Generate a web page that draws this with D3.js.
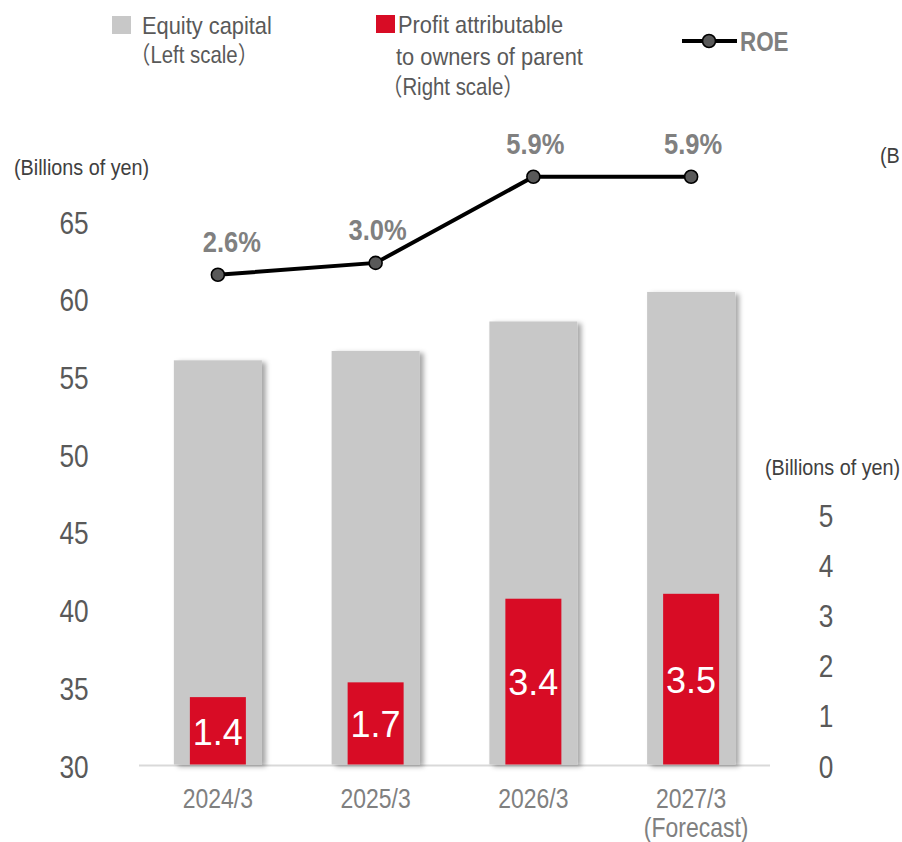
<!DOCTYPE html>
<html>
<head>
<meta charset="utf-8">
<script src="https://cdn.jsdelivr.net/npm/d3@7"></script>
<style>
  html, body { margin: 0; padding: 0; background: #fff; }
  svg { display: block; }
  text { font-family: "Liberation Sans", Arial, "Noto Sans CJK JP", sans-serif; }
</style>
</head>
<body>
<script>
// ---- Data ----
const categories = ["2024/3", "2025/3", "2026/3", "2027/3"];
const categorySub = ["", "", "", "(Forecast)"];
const equityCapital = [56.1, 56.7, 58.6, 60.5];
const profit = [1.4, 1.7, 3.4, 3.5];
const roe = [2.6, 3.0, 5.9, 5.9];
const leftTicks = [30, 35, 40, 45, 50, 55, 60, 65];
const rightTicks = [0, 1, 2, 3, 4, 5];

const W = 902, H = 842;
const svg = d3.select("body").append("svg").attr("width", W).attr("height", H);

const defs = svg.append("defs");
const f = defs.append("filter").attr("id", "shadow").attr("x", "-20%").attr("y", "-5%").attr("width", "150%").attr("height", "115%");
f.append("feDropShadow").attr("dx", 4).attr("dy", 2).attr("stdDeviation", 2.5)
  .attr("flood-color", "#000").attr("flood-opacity", 0.35);

// condensed text helper
function ctext(parent, x, y, str, o) {
  const g = parent.append("g").attr("transform", `translate(${x},${y}) scale(${o.sx || 1},1)`);
  const t = g.append("text")
    .attr("text-anchor", o.anchor || "start")
    .attr("font-size", o.size)
    .attr("fill", o.fill || "#595959")
    .text(str);
  if (o.bold) t.attr("font-weight", "bold");
  if (o.dy) t.attr("dy", o.dy);
  return t;
}

// ---- Scales ----
const x = d3.scaleBand().domain(categories).range([139, 770]).paddingInner(0.442).paddingOuter(0.221);
const yL = d3.scaleLinear().domain([30, 65]).range([766, 222]);
const yR = d3.scaleLinear().domain([0, 5]).range([766, 520]);
const yRoe = d3.scaleLinear().domain([0, 6]).range([352, 173.8]);

const gray = "#c8c8c8", red = "#d80c25";

// Baseline
svg.append("line").attr("x1", 139).attr("x2", 770).attr("y1", 765.5).attr("y2", 765.5)
  .attr("stroke", "#d9d9d9").attr("stroke-width", 2);

// Equity bars
svg.append("g").selectAll("rect").data(equityCapital).join("rect")
  .attr("x", (d, i) => x(categories[i]))
  .attr("width", x.bandwidth())
  .attr("y", d => yL(d))
  .attr("height", d => yL(30) - yL(d) - 1.5)
  .attr("fill", gray)
  .attr("filter", "url(#shadow)");

// Profit bars
const rw = 56;
svg.append("g").selectAll("rect").data(profit).join("rect")
  .attr("x", (d, i) => x(categories[i]) + x.bandwidth() / 2 - rw / 2)
  .attr("width", rw)
  .attr("y", d => yR(d))
  .attr("height", d => yR(0) - yR(d) - 1.5)
  .attr("fill", red);

// Profit labels
svg.append("g").selectAll("text").data(profit).join("text")
  .attr("x", (d, i) => x(categories[i]) + x.bandwidth() / 2)
  .attr("y", d => (yR(d) + yR(0)) / 2)
  .attr("dy", "0.36em")
  .attr("text-anchor", "middle")
  .attr("font-size", 36)
  .attr("fill", "#fff")
  .text(d => d.toFixed(1));

// ROE line
const pts = roe.map((d, i) => [x(categories[i]) + x.bandwidth() / 2, yRoe(d)]);
svg.append("path").attr("d", d3.line()(pts)).attr("fill", "none")
  .attr("stroke", "#000").attr("stroke-width", 4);
svg.append("g").selectAll("circle").data(pts).join("circle")
  .attr("cx", d => d[0]).attr("cy", d => d[1]).attr("r", 6.5)
  .attr("fill", "#595959").attr("stroke", "#000").attr("stroke-width", 1.6);
const gRoe = svg.append("g");
roe.forEach((d, i) => {
  ctext(gRoe, pts[i][0] + (i === 0 ? 14 : 2), pts[i][1] - 34, d.toFixed(1) + "%",
    { sx: 0.85, size: 30, bold: true, anchor: "middle", fill: "#808080", dy: "0.36em" });
});

// Left axis ticks
const gL = svg.append("g");
leftTicks.forEach(d => ctext(gL, 74, yL(d), String(d), { sx: 0.82, size: 32, anchor: "middle", fill: "#595959", dy: "0.36em" }));

// Right axis ticks
const gR = svg.append("g");
rightTicks.forEach(d => ctext(gR, 826, yR(d) - (d / 5) * 5, String(d), { sx: 0.82, size: 32, anchor: "middle", fill: "#595959", dy: "0.36em" }));

// Unit labels
const unit = "(Billions of yen)";
ctext(svg, 14, 167, unit, { sx: 0.9, size: 22, fill: "#404040", dy: "0.36em" });
ctext(svg, 765, 467, unit, { sx: 0.9, size: 22, fill: "#404040", dy: "0.36em" });
ctext(svg, 880, 155, "(B", { sx: 0.9, size: 22, fill: "#404040", dy: "0.36em" });

// Category labels
const gC = svg.append("g");
categories.forEach((d, i) => {
  const cx = x(d) + x.bandwidth() / 2;
  ctext(gC, cx, 798, d, { sx: 0.82, size: 28, anchor: "middle", fill: "#808080", dy: "0.36em" });
  if (categorySub[i]) ctext(gC, cx + 5, 827, categorySub[i], { sx: 0.82, size: 28, anchor: "middle", fill: "#808080", dy: "0.36em" });
});

// Legend
const lg = svg.append("g");
const ltxt = "#595959";
const ls = 0.91;
lg.append("rect").attr("x", 112).attr("y", 16).attr("width", 19).attr("height", 18).attr("fill", gray);
ctext(lg, 142, 34, "Equity capital", { sx: ls, size: 24, fill: ltxt });
ctext(lg, 130, 63, "（Left scale）", { sx: 0.85, size: 24, fill: ltxt });

lg.append("rect").attr("x", 376).attr("y", 15).attr("width", 19).attr("height", 18).attr("fill", red);
ctext(lg, 398, 33, "Profit attributable", { sx: ls, size: 24, fill: ltxt });
ctext(lg, 396, 65, "to owners of parent", { sx: ls, size: 24, fill: ltxt });
ctext(lg, 382, 95, "（Right scale）", { sx: 0.85, size: 24, fill: ltxt });

lg.append("line").attr("x1", 682).attr("x2", 737).attr("y1", 41).attr("y2", 41).attr("stroke", "#000").attr("stroke-width", 4);
lg.append("circle").attr("cx", 709).attr("cy", 41).attr("r", 6.5).attr("fill", "#595959").attr("stroke", "#000").attr("stroke-width", 1.6);
ctext(lg, 740, 41, "ROE", { sx: 0.83, size: 27, bold: true, fill: "#808080", dy: "0.36em" });
</script>
</body>
</html>
